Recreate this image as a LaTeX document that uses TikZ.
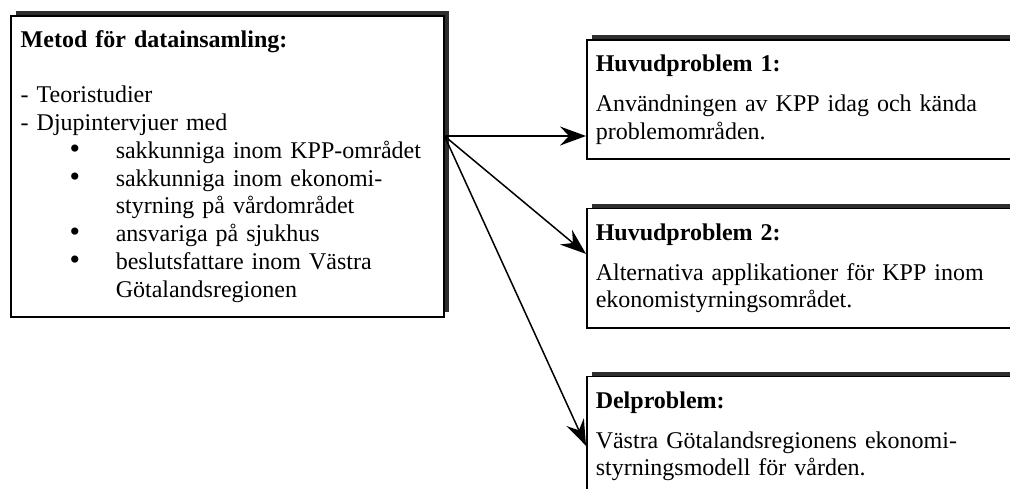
\documentclass[tikz,border=0pt]{standalone}
\usepackage{fontspec}
\setmainfont{Liberation Serif}
\usetikzlibrary{positioning, calc, shadows, arrows.meta}

\tikzset{
	ruta/.style={draw, line width=0.75pt, fill=white, anchor=north west, align=left,
		font=\fontsize{12}{13.9}\selectfont,
		general shadow={shadow xshift=2.5pt, shadow yshift=2.5pt, fill=black!82}},
	problem/.style={ruta, text width=230pt, inner xsep=4.5pt, inner ysep=7.5pt},
	pil/.style={line width=0.75pt, -{Stealth[length=13pt, width=9.5pt, inset=4.5pt]}}
}
\newcommand{\punkt}[1]{\makebox[47.5pt][l]{\hspace*{24.5pt}{\fontsize{15}{13.9}\selectfont\textbullet}}#1}
\newcommand{\fortsatt}[1]{\hspace*{47.5pt}#1}

\begin{document}
\begin{tikzpicture}[x=0.5pt, y=-0.5pt]
	\path[use as bounding box] (0,0) rectangle (1010,488);
	\clip (0,0) rectangle (1010,488);
	
	\node[ruta, text width=206.5pt, inner xsep=5pt, inner ysep=7.2pt] (metod) at (10,15) {\textbf{Metod för datainsamling:}\\[13.9pt]
		- Teoristudier\\
		- Djupintervjuer med\\
		\punkt{sakkunniga inom KPP-området}\\
		\punkt{sakkunniga inom ekonomi-}\\
		\fortsatt{styrning på vårdområdet}\\
		\punkt{ansvariga på sjukhus}\\
		\punkt{beslutsfattare inom Västra}\\
		\fortsatt{Götalandsregionen}};
	
	\node[problem] (hp1) at (586,39) {\textbf{Huvudproblem 1:}\\[6pt]
		Användningen av KPP idag och kända\\
		problemområden.};
	\node[problem, below=24pt of hp1.south west, anchor=north west] (hp2) {\textbf{Huvudproblem 2:}\\[6pt]
		Alternativa applikationer för KPP inom\\
		ekonomistyrningsområdet.};
	\node[problem, below=23.5pt of hp2.south west, anchor=north west] (del) {\textbf{Delproblem:}\\[6pt]
		Västra Götalandsregionens ekonomi-\\
		styrningsmodell för vården.\rule[-12pt]{0pt}{0pt}};
	
	% pilar
	\coordinate (gren) at ($(metod.north east)+(0,121)$);
	\draw[pil] (gren) -- (hp1.west |- gren);
	\draw[pil] (gren) -- ($(hp2.north west)+(0,46)$);
	\draw[pil] (gren) -- ($(del.north west)+(0,70)$);
\end{tikzpicture}
\end{document}
